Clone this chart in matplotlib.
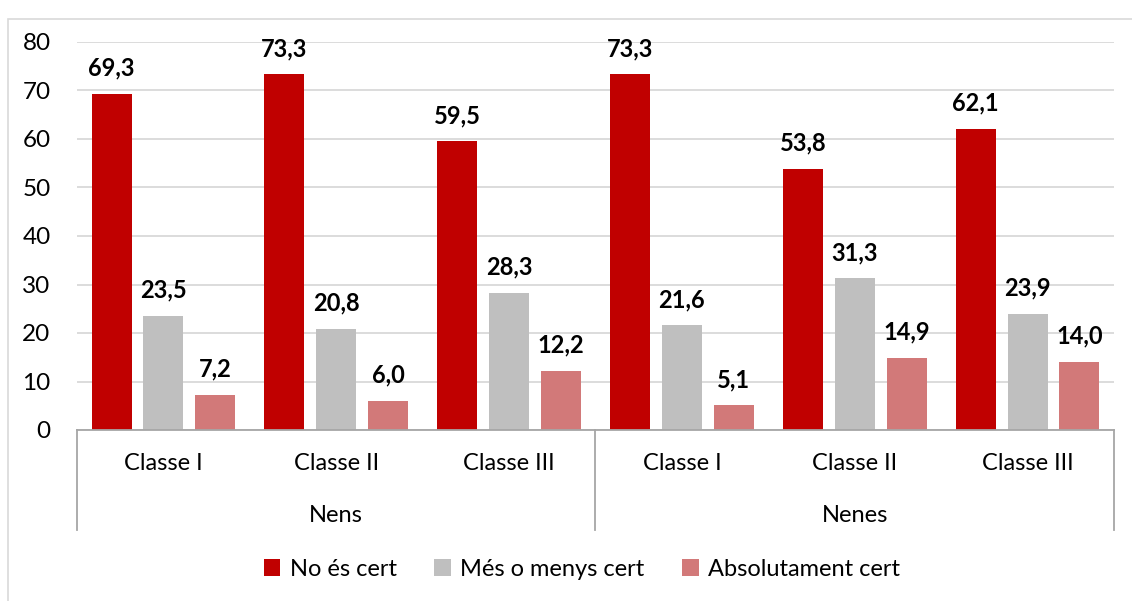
import numpy as np
import matplotlib.pyplot as plt
from matplotlib.patches import Rectangle

plt.rcParams['font.family'] = ['Lato', 'DejaVu Sans']

groups = ['Nens', 'Nenes']
classes = ['Classe I', 'Classe II', 'Classe III']
series = ['No és cert', 'Més o menys cert', 'Absolutament cert']
no_cert = [69.3, 73.3, 59.5, 73.3, 53.8, 62.1]
mes_menys = [23.5, 20.8, 28.3, 21.6, 31.3, 23.9]
absolut = [7.2, 6.0, 12.2, 5.1, 14.9, 14.0]
colors = ['#c00000', '#bfbfbf', '#d27979']

fig = plt.figure(figsize=(11.32, 6.01), dpi=100)
fig.patches.append(Rectangle((8 / 1132, -0.01), 1.2, 0.99 - 13 / 601 + 0.01,
                             transform=fig.transFigure, fill=False,
                             edgecolor='#d9d9d9', linewidth=1.2))
ax = fig.add_axes([77 / 1132, (601 - 430) / 601, (1114 - 77) / 1132, 388 / 601])

x = np.arange(len(no_cert))
w = 0.232
off = 0.30
for i, (vals, c, lab) in enumerate(zip([no_cert, mes_menys, absolut], colors, series)):
    bars = ax.bar(x + (i - 1) * off, vals, w, color=c, label=lab, zorder=2)
    for b, v in zip(bars, vals):
        ax.text(b.get_x() + b.get_width() / 2, v + 5.3, f'{v:.1f}'.replace('.', ','),
                ha='center', va='center', fontsize=17, fontweight='bold', clip_on=False)

ax.set_xlim(-0.5, len(x) - 0.5)
ax.set_ylim(0, 80)
ax.set_yticks(range(0, 81, 10))
ax.tick_params(axis='y', length=0, labelsize=17.5, pad=19)
ax.set_xticks([])
ax.yaxis.grid(True, color='#d9d9d9', linewidth=1.3, zorder=0)
for s in ['top', 'right', 'left']:
    ax.spines[s].set_visible(False)
ax.spines['bottom'].set_color('#a6a6a6')
ax.spines['bottom'].set_linewidth(1.3)

# category labels and group separators
trans = ax.get_xaxis_transform()
for i in x:
    ax.text(i, -33 / 388, classes[i % 3], transform=trans, ha='center', va='center',
            fontsize=17)
for g, name in enumerate(groups):
    ax.text(g * 3 + 1, -85 / 388, name, transform=trans, ha='center', va='center',
            fontsize=17)
for xs in [-0.5, 2.5, 5.5]:
    ax.plot([xs, xs], [0, -100 / 388], transform=trans, color='#a6a6a6',
            linewidth=1.3, clip_on=False)

fig.legend(loc='center', bbox_to_anchor=(582 / 1132, 1 - 569 / 601), ncol=3,
           frameon=False, fontsize=17, handlelength=0.7, handleheight=0.7,
           handletextpad=0.4, columnspacing=1.6)

fig.savefig('out.png', dpi=100)
